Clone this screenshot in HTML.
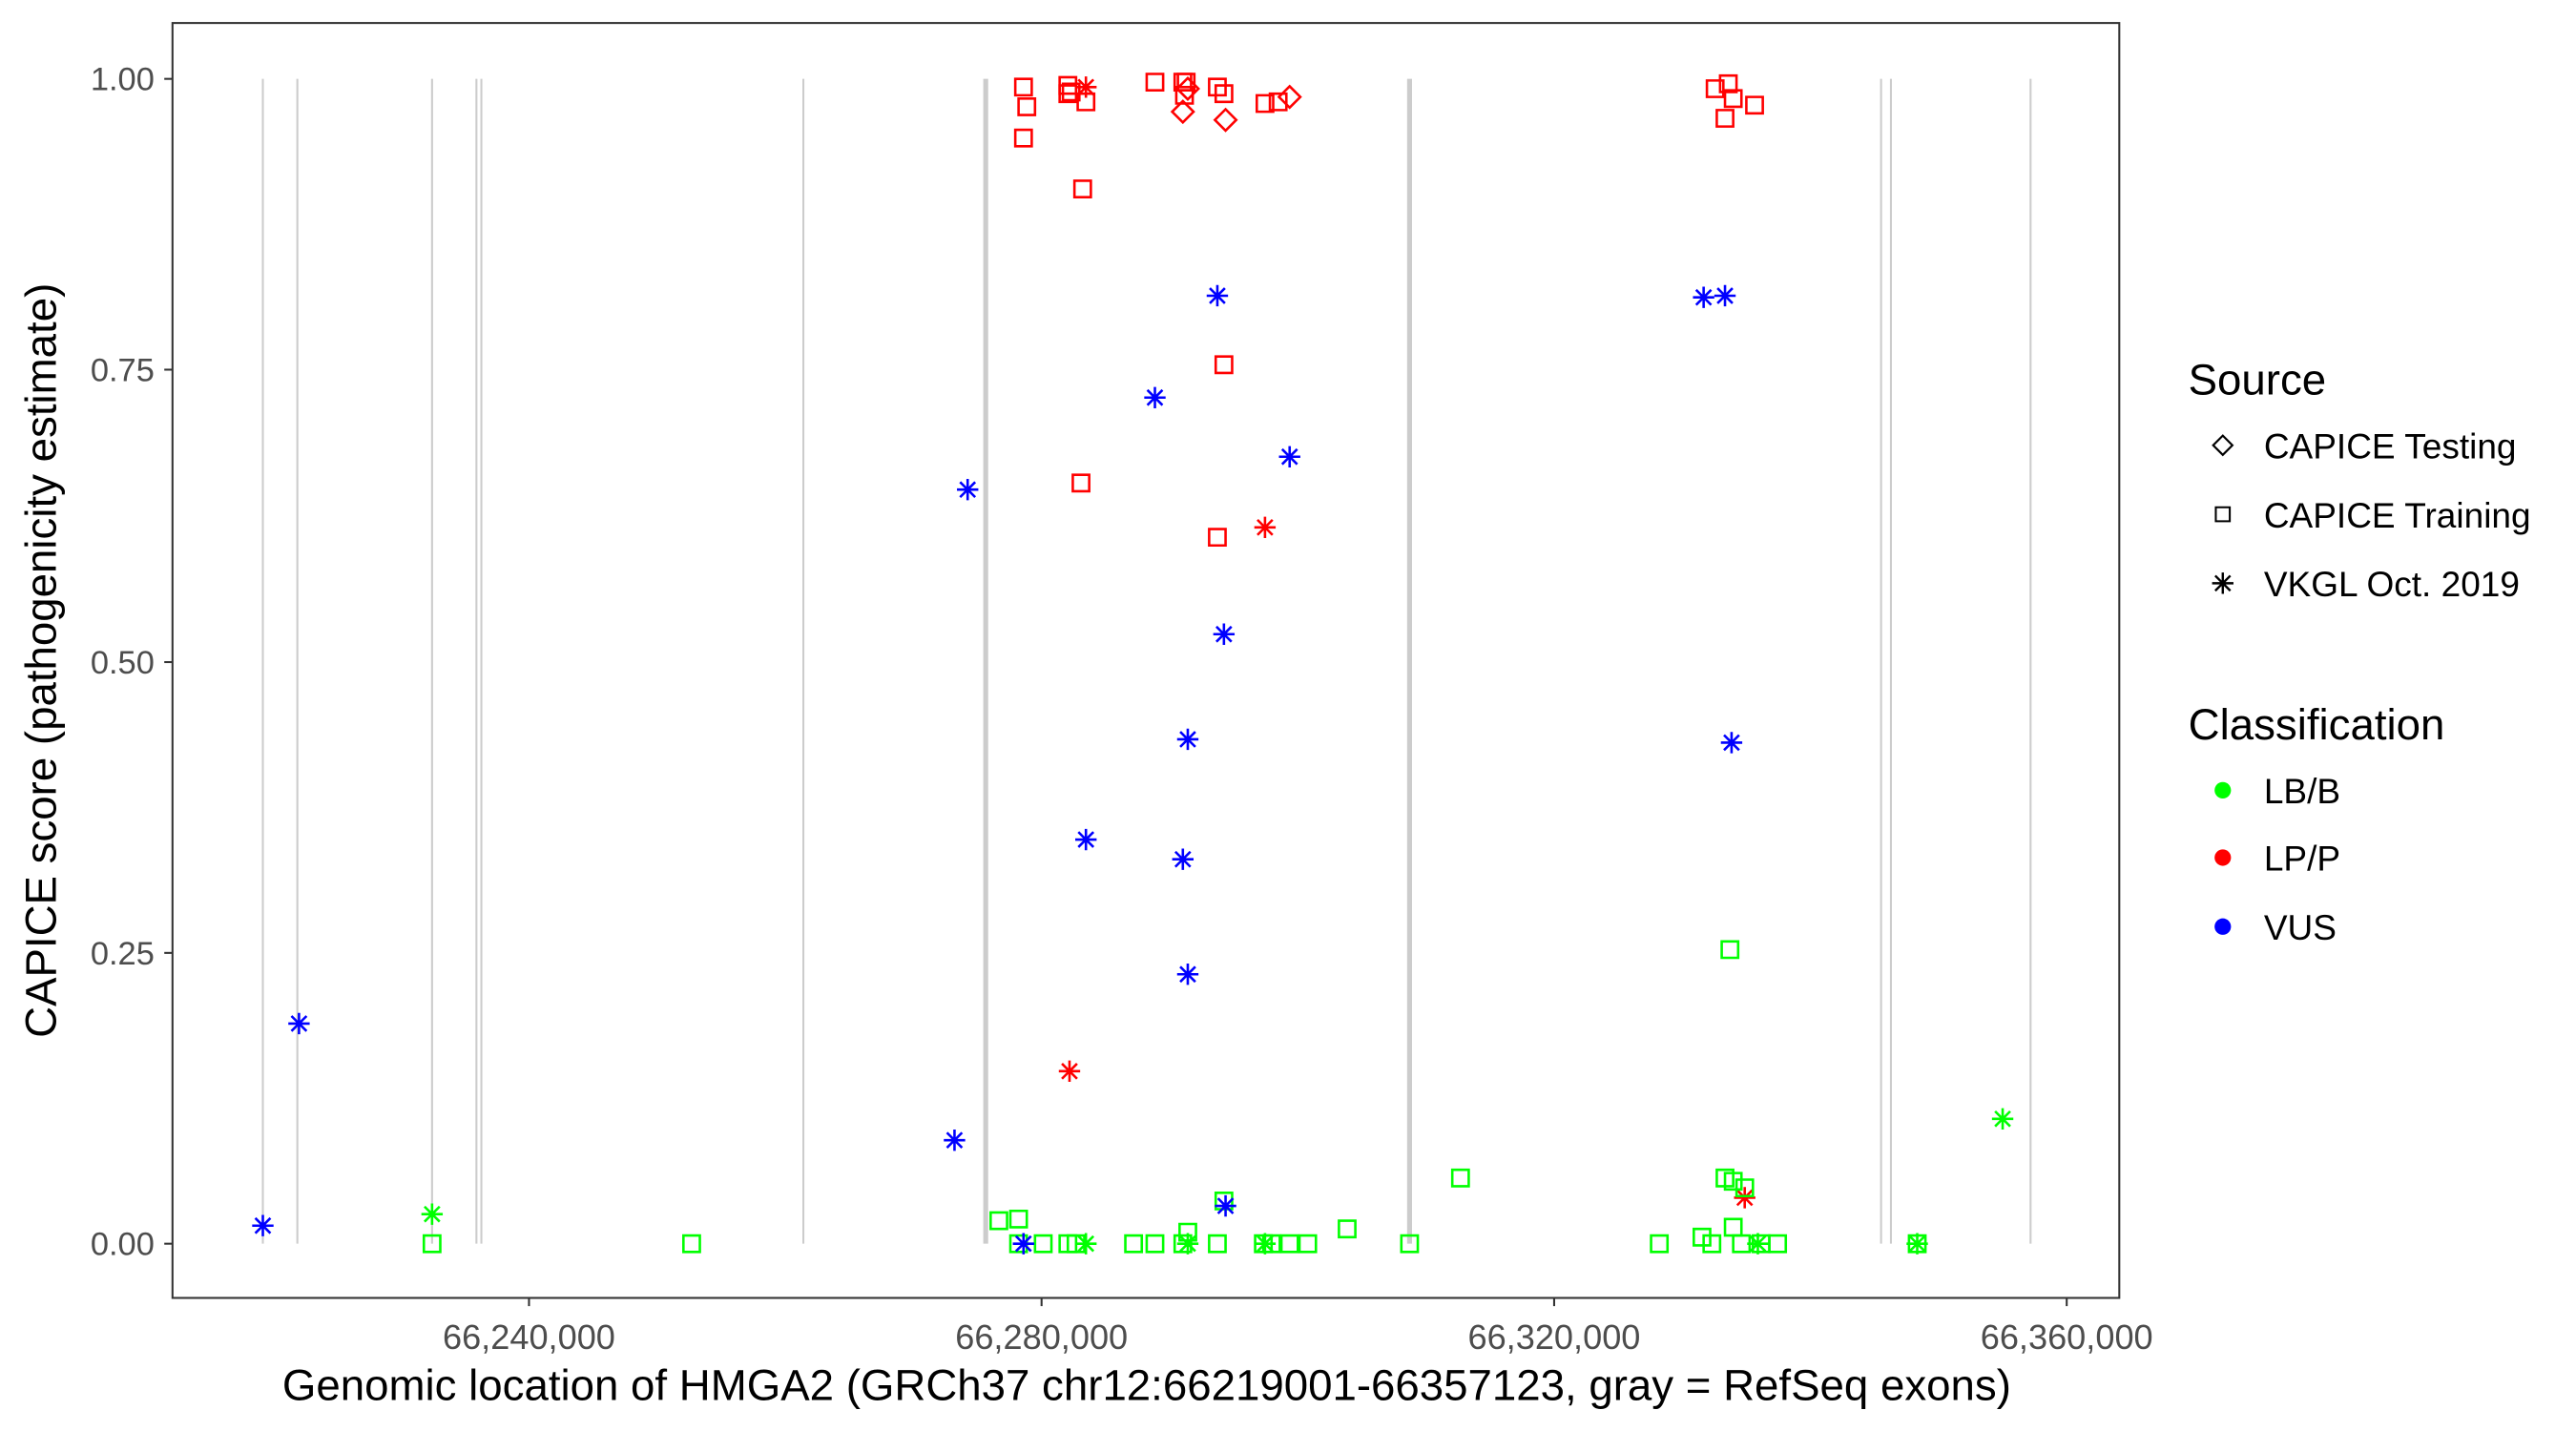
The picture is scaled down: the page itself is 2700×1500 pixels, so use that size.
<!DOCTYPE html>
<html><head><meta charset="utf-8"><style>
html,body{margin:0;padding:0;background:#fff;}
svg{display:block;}
text{font-family:"Liberation Sans",sans-serif;}
</style></head><body>
<svg width="2700" height="1500" viewBox="0 0 1568 871" preserveAspectRatio="none" xmlns="http://www.w3.org/2000/svg">
<defs>
<path id="s" d="M-5,-5H5V5H-5Z"/>
<path id="d" d="M0,-6.5L6.5,0L0,6.5L-6.5,0Z"/>
<path id="a" d="M0,-6.5V6.5M-6.5,0H6.5M-4.6,-4.6L4.6,4.6M-4.6,4.6L4.6,-4.6"/>
</defs>
<rect x="0" y="0" width="1568" height="871" fill="#fff"/>
<g stroke="#cccccc" stroke-width="1.2">
<line x1="160" y1="48" x2="160" y2="757"/><line x1="181" y1="48" x2="181" y2="757"/>
<line x1="263" y1="48" x2="263" y2="757"/><line x1="290" y1="48" x2="290" y2="757"/>
<line x1="293" y1="48" x2="293" y2="757"/><line x1="489" y1="48" x2="489" y2="757"/>
<line x1="600" y1="48" x2="600" y2="757" stroke-width="3"/>
<line x1="858" y1="48" x2="858" y2="757" stroke-width="3"/>
<line x1="1145" y1="48" x2="1145" y2="757"/><line x1="1151" y1="48" x2="1151" y2="757"/>
<line x1="1236" y1="48" x2="1236" y2="757"/>
</g>
<rect x="105" y="14" width="1185" height="776" fill="none" stroke="#333" stroke-width="1.2"/>
<g stroke="#333" stroke-width="1.2">
<line x1="100" y1="48" x2="105" y2="48"/><line x1="100" y1="225" x2="105" y2="225"/>
<line x1="100" y1="403" x2="105" y2="403"/><line x1="100" y1="580" x2="105" y2="580"/>
<line x1="100" y1="757" x2="105" y2="757"/>
<line x1="322" y1="790" x2="322" y2="795"/><line x1="634" y1="790" x2="634" y2="795"/>
<line x1="946" y1="790" x2="946" y2="795"/><line x1="1258" y1="790" x2="1258" y2="795"/>
</g>
<g font-size="20" fill="#4d4d4d" text-anchor="end">
<text x="94" y="55">1.00</text><text x="94" y="232">0.75</text><text x="94" y="410">0.50</text>
<text x="94" y="587">0.25</text><text x="94" y="764">0.00</text>
</g>
<g font-size="21" fill="#4d4d4d" text-anchor="middle">
<text x="322" y="821">66,240,000</text><text x="634" y="821">66,280,000</text>
<text x="946" y="821">66,320,000</text><text x="1258" y="821">66,360,000</text>
</g>
<text x="698" y="852" font-size="26.5" text-anchor="middle">Genomic location of HMGA2 (GRCh37 chr12:66219001-66357123, gray = RefSeq exons)</text>
<text transform="translate(34,402) rotate(-90)" font-size="26.5" text-anchor="middle">CAPICE score (pathogenicity estimate)</text>
<g fill="none" stroke-width="1.5">
<g stroke="#ff0000">
<use href="#s" x="623" y="53"/><use href="#s" x="625" y="65"/><use href="#s" x="623" y="84"/>
<use href="#s" x="650" y="52"/><use href="#s" x="650" y="57"/><use href="#s" x="652" y="56"/>
<use href="#s" x="661" y="62"/><use href="#s" x="659" y="115"/><use href="#s" x="703" y="50"/>
<use href="#s" x="720" y="50"/><use href="#s" x="722" y="50"/><use href="#s" x="721" y="58"/>
<use href="#s" x="741" y="53"/><use href="#s" x="745" y="57"/><use href="#s" x="770" y="63"/>
<use href="#s" x="778" y="62"/><use href="#s" x="658" y="294"/><use href="#s" x="745" y="222"/>
<use href="#s" x="741" y="327"/><use href="#s" x="1044" y="54"/><use href="#s" x="1052" y="51"/>
<use href="#s" x="1055" y="60"/><use href="#s" x="1050" y="72"/><use href="#s" x="1068" y="64"/>
<use href="#d" x="720" y="68"/><use href="#d" x="746" y="73"/><use href="#d" x="785" y="59"/><use href="#d" x="723" y="54"/>
<use href="#a" x="661" y="53"/><use href="#a" x="770" y="321"/><use href="#a" x="651" y="652"/><use href="#a" x="1062" y="729"/>
</g>
<g stroke="#00ff00">
<use href="#s" x="263" y="757"/><use href="#s" x="421" y="757"/><use href="#s" x="608" y="743"/>
<use href="#s" x="620" y="742"/><use href="#s" x="620" y="757"/><use href="#s" x="635" y="757"/>
<use href="#s" x="650" y="757"/><use href="#s" x="655" y="757"/><use href="#s" x="690" y="757"/>
<use href="#s" x="703" y="757"/><use href="#s" x="720" y="757"/><use href="#s" x="723" y="750"/>
<use href="#s" x="741" y="757"/><use href="#s" x="745" y="731"/><use href="#s" x="769" y="757"/>
<use href="#s" x="774" y="757"/><use href="#s" x="785" y="757"/><use href="#s" x="796" y="757"/>
<use href="#s" x="820" y="748"/><use href="#s" x="858" y="757"/><use href="#s" x="889" y="717"/>
<use href="#s" x="1010" y="757"/><use href="#s" x="1036" y="753"/><use href="#s" x="1042" y="757"/>
<use href="#s" x="1050" y="717"/><use href="#s" x="1055" y="719"/><use href="#s" x="1062" y="723"/>
<use href="#s" x="1055" y="747"/><use href="#s" x="1053" y="578"/><use href="#s" x="1060" y="757"/>
<use href="#s" x="1072" y="757"/><use href="#s" x="1082" y="757"/><use href="#s" x="1167" y="757"/>
<use href="#a" x="263" y="739"/><use href="#a" x="1219" y="681"/><use href="#a" x="1167" y="757"/>
<use href="#a" x="661" y="757"/><use href="#a" x="723" y="757"/><use href="#a" x="770" y="757"/>
<use href="#a" x="1070" y="757"/>
</g>
<g stroke="#0000ff">
<use href="#a" x="741" y="180"/><use href="#a" x="703" y="242"/><use href="#a" x="785" y="278"/>
<use href="#a" x="589" y="298"/><use href="#a" x="745" y="386"/><use href="#a" x="723" y="450"/>
<use href="#a" x="1054" y="452"/><use href="#a" x="661" y="511"/><use href="#a" x="720" y="523"/>
<use href="#a" x="723" y="593"/><use href="#a" x="182" y="623"/><use href="#a" x="581" y="694"/>
<use href="#a" x="746" y="734"/><use href="#a" x="160" y="746"/><use href="#a" x="1037" y="181"/>
<use href="#a" x="1050" y="180"/><use href="#a" x="623" y="757"/>
</g>
</g>
<text x="1332" y="240" font-size="26.5">Source</text>
<g fill="none" stroke="#000" stroke-width="1.4">
<use href="#d" x="1353" y="271" transform="translate(1353,271) scale(0.9) translate(-1353,-271)"/>
<use href="#s" x="1353" y="313" transform="translate(1353,313) scale(0.85) translate(-1353,-313)"/>
<use href="#a" x="1353" y="355"/>
</g>
<g font-size="21.5">
<text x="1378" y="279">CAPICE Testing</text>
<text x="1378" y="321">CAPICE Training</text>
<text x="1378" y="363">VKGL Oct. 2019</text>
</g>
<text x="1332" y="450" font-size="26.5">Classification</text>
<circle cx="1353" cy="481" r="5" fill="#00ff00"/>
<circle cx="1353" cy="522" r="5" fill="#ff0000"/>
<circle cx="1353" cy="564" r="5" fill="#0000ff"/>
<g font-size="21.5">
<text x="1378" y="489">LB/B</text>
<text x="1378" y="530">LP/P</text>
<text x="1378" y="572">VUS</text>
</g>
</svg>
</body></html>
